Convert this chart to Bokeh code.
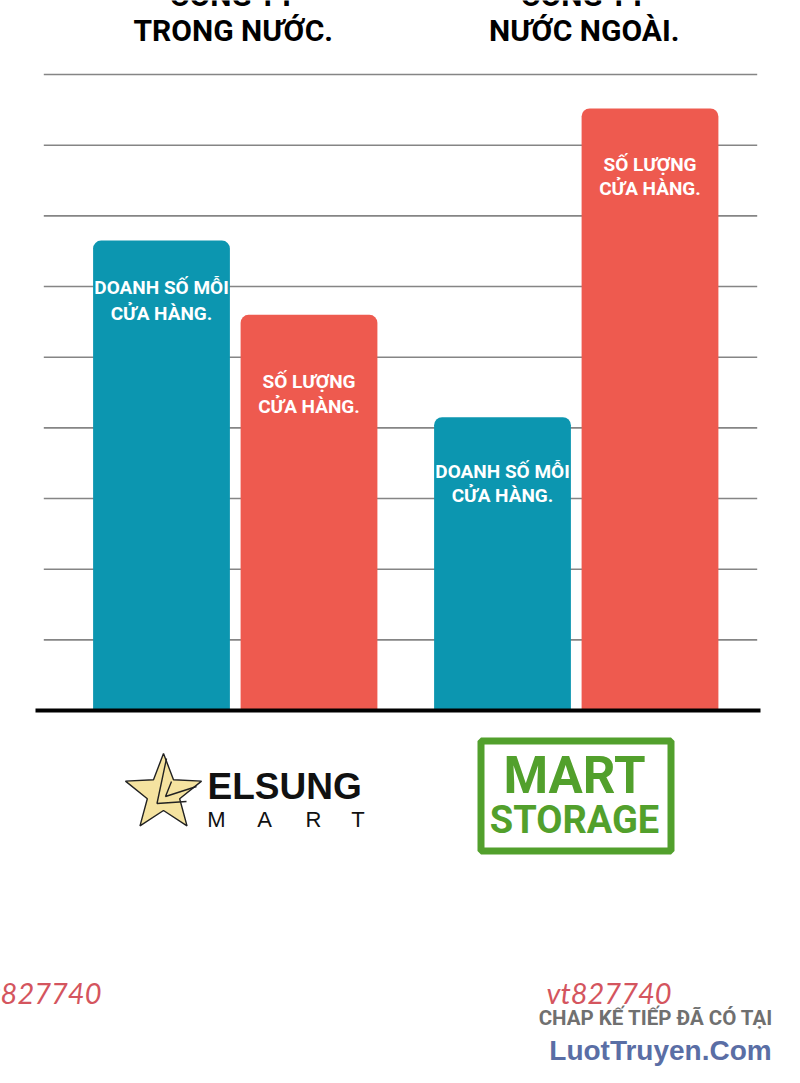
import math
from bokeh.plotting import figure
from bokeh.models import ColumnDataSource, Range1d
from bokeh.transform import dodge
from bokeh.core.properties import value
from bokeh.embed import file_html
from bokeh.resources import INLINE

# ---------------- data ----------------
companies = ["TRONG NƯỚC.", "NƯỚC NGOÀI."]
company_prefix = ["CÔNG TY", "CÔNG TY"]
sales_per_store = [6.65, 4.15]
store_count = [5.60, 8.52]
sales_label = ["DOANH SỐ MỖI", "CỬA HÀNG."]
count_label = ["SỐ LƯỢNG", "CỬA HÀNG."]
grid_values = [1, 2, 3, 4, 5, 6, 7, 8, 9]
elsung_word = "ELSUNG"
elsung_sub = ["M", "A", "R", "T"]
storage_words = ["MART", "STORAGE"]
watermark = "vt827740"
promo_line = "CHAP KẾ TIẾP ĐÃ CÓ TẠI"
promo_site = "LuotTruyen.Com"

# ---------------- layout ----------------
W, H = 800, 1083
PX_X = 341.0      # pixels per group step
X0 = 234.75       # page x of first group centre
PX_Y = 70.66      # pixels per value unit
Y0 = 710.0        # page y of value 0


def dx(X):
    return (X - X0) / PX_X


def dy(Y):
    return (Y0 - Y) / PX_Y


TEAL = "#0c96b0"
RED = "#ee5a4f"
GREEN = "#52a02c"
COND = "Roboto"
SANS = "Liberation Sans"

p = figure(width=W, height=H, x_range=Range1d(dx(0), dx(W)),
           y_range=Range1d(dy(H), dy(0)), output_backend="svg",
           toolbar_location=None, min_border=0, x_axis_location=None,
           y_axis_location=None, outline_line_color=None,
           background_fill_color="white", border_fill_color="white")
p.grid.visible = False

# grid lines
p.segment(x0=[dx(43.3)] * len(grid_values), x1=[dx(756.7)] * len(grid_values),
          y0=grid_values, y1=grid_values, line_color="#858585", line_width=1.6)

BAR_W = 136.8 / PX_X
OFF = 73.75 / PX_X
idx = list(range(len(companies)))

series = [
    (sales_per_store, -OFF, TEAL, sales_label, [47, 54], [73, 78]),
    (store_count, OFF, RED, count_label, [66.5, 56], [91.5, 80]),
]
for vals, off, col, lab, o1, o2 in series:
    src = ColumnDataSource(dict(
        x=idx, v=vals,
        y1=[v - o / PX_Y for v, o in zip(vals, o1)],
        y2=[v - o / PX_Y for v, o in zip(vals, o2)],
        t1=[lab[0]] * len(vals), t2=[lab[1]] * len(vals)))
    p.vbar(x=dodge("x", off), top="v", bottom=0, width=BAR_W, source=src,
           fill_color=col, line_color=None, border_radius=(8, 8, 0, 0))
    for yc, tc in (("y1", "t1"), ("y2", "t2")):
        p.text(x=dodge("x", off), y=yc, text=tc, source=src,
               text_font=value(COND), text_font_style="bold",
               text_font_size="19px", text_color="white",
               text_align="center", text_baseline="middle")

# baseline
p.segment(x0=[dx(35)], x1=[dx(760)], y0=[0], y1=[0], line_color="black",
          line_width=4)

# titles (first line is cut by the top edge)
title_shift = [-2, 8]
tsrc = ColumnDataSource(dict(
    x=[i + s / PX_X for i, s in zip(idx, title_shift)], t=companies,
    t0=company_prefix, y=[dy(29.5)] * len(idx), y0=[dy(-5)] * len(idx)))
for col_name in ("y", "y0"):
    p.text(x="x", y=col_name, text="t" if col_name == "y" else "t0",
           source=tsrc, text_font=value(COND), text_font_style="bold",
           text_font_size="30px", text_color="black", text_align="center",
           text_baseline="middle")

# ---- ELSUNG MART logo ----
cx, cy, R, r = 163, 793, 40, 17
sx, sy = [], []
for k in range(10):
    ang = math.radians(90 + 36 * k)
    rad = R if k % 2 == 0 else r
    sx.append(dx(cx + rad * math.cos(ang)))
    sy.append(dy(cy - rad * math.sin(ang)))
p.patch(sx, sy, fill_color="#f5e3a0", line_color="#222222", line_width=1.4)
p.line([dx(166), dx(156.5), dx(186)], [dy(758), dy(803), dy(801)],
       line_color="#222222", line_width=1.4)
p.line([dx(171), dx(165), dx(196)], [dy(781), dy(796), dy(786)],
       line_color="#222222", line_width=1.4)
p.text(x=[dx(207)], y=[dy(786)], text=[elsung_word], text_font=value(SANS),
       text_font_style="bold", text_font_size="37px", text_color="#111111",
       text_align="left", text_baseline="middle")
p.text(x=[dx(216), dx(264), dx(313), dx(357.5)], y=[dy(819)] * 4,
       text=elsung_sub, text_font=value(SANS), text_font_size="22px",
       text_color="#111111", text_align="center", text_baseline="middle")

# ---- MART STORAGE logo ----
p.quad(left=[dx(480.5)], right=[dx(670.5)], top=[dy(740.5)],
       bottom=[dy(850.5)], fill_color=None, line_color=GREEN, line_width=7)
p.text(x=[dx(574)], y=[dy(774.5)], text=[storage_words[0]],
       text_font=value(COND), text_font_style="bold", text_font_size="51px",
       text_color=GREEN, text_align="center", text_baseline="middle")
p.text(x=[dx(574)], y=[dy(819)], text=[storage_words[1]],
       text_font=value(COND), text_font_style="bold", text_font_size="38px",
       text_color=GREEN, text_align="center", text_baseline="middle")

# ---- watermarks ----
p.text(x=[dx(101), dx(546)], y=[dy(991.5)] * 2, text=[watermark] * 2,
       text_align=["right", "left"], text_font=value("Lato"),
       text_font_style="italic", text_font_size="29px", text_color="#d4555e",
       text_baseline="middle")
p.text(x=[dx(655.5)], y=[dy(1017.5)], text=[promo_line],
       text_font=value(COND), text_font_style="bold", text_font_size="20.5px",
       text_color="#707070", text_align="center", text_baseline="middle")
p.text(x=[dx(660)], y=[dy(1050)], text=[promo_site], text_font=value(SANS),
       text_font_style="bold", text_font_size="28px", text_color="#5a6ea5",
       text_align="center", text_baseline="middle")

open("out.html", "w").write(file_html(p, INLINE))
